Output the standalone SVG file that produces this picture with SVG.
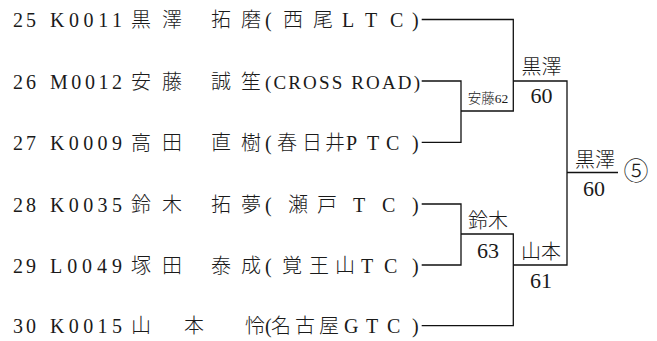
<svg xmlns="http://www.w3.org/2000/svg" width="657" height="341" viewBox="0 0 657 341">
<style>
text { font-family: "Liberation Serif", "Noto Sans CJK JP", serif; fill: #1a1a1a; font-size: 20px; }
.j { font-family: "Noto Sans CJK JP", sans-serif; font-weight: 300; }
.s { font-size: 22px; }
.sm { font-size: 13.5px; }
.cr { font-size: 19px; }
.ci { font-family: "Noto Sans CJK JP", sans-serif; font-weight: 300; font-size: 25px; }
#connectors path { stroke: #111; stroke-width: 1.3; fill: none; }
</style>
<rect width="657" height="341" fill="#fff"/>
<g id="connectors">
<path d="M421.7 19.5 H513.3 V111 H461"/>
<path d="M421.7 81 H461 V142.3 H421.7"/>
<path d="M513.3 81 H567 V265 H513.3"/>
<path d="M567 172.5 H618"/>
<path d="M421.7 204 H461 V265 H421.7"/>
<path d="M461 234 H513.3 V325.7 H421.7"/>
</g>
<g id="p25">
<text x="13" y="27" textLength="23" lengthAdjust="spacing">25</text>
<text x="50" y="27" textLength="72" lengthAdjust="spacing">K0011</text>
<text class="j" x="131 162 211 241" y="27">黒澤拓磨</text>
<text y="27"><tspan x="265">(</tspan><tspan class="j" x="283 313">西尾</tspan><tspan x="342 365 390 412">LTC)</tspan></text>
</g>
<g id="p26">
<text x="13" y="88.5" textLength="23" lengthAdjust="spacing">26</text>
<text x="50" y="88.5" textLength="72" lengthAdjust="spacing">M0012</text>
<text class="j" x="131 162 211 241" y="88.5">安藤誠笙</text>
<text class="cr" x="265" y="88.5" textLength="155" lengthAdjust="spacing">(CROSS  ROAD)</text>
</g>
<g id="p27">
<text x="13" y="150" textLength="23" lengthAdjust="spacing">27</text>
<text x="50" y="150" textLength="72" lengthAdjust="spacing">K0009</text>
<text class="j" x="131 162 211 241" y="150">高田直樹</text>
<text y="150"><tspan x="265">(</tspan><tspan class="j" x="277 302 325">春日井</tspan><tspan x="346 367 386 412">PTC)</tspan></text>
</g>
<g id="p28">
<text x="13" y="211.5" textLength="23" lengthAdjust="spacing">28</text>
<text x="50" y="211.5" textLength="72" lengthAdjust="spacing">K0035</text>
<text class="j" x="131 162 211 241" y="211.5">鈴木拓夢</text>
<text y="211.5"><tspan x="265">(</tspan><tspan class="j" x="288 317">瀬戸</tspan><tspan x="353 382 412">TC)</tspan></text>
</g>
<g id="p29">
<text x="13" y="272.5" textLength="23" lengthAdjust="spacing">29</text>
<text x="50" y="272.5" textLength="72" lengthAdjust="spacing">L0049</text>
<text class="j" x="131 162 211 241" y="272.5">塚田泰成</text>
<text y="272.5"><tspan x="265">(</tspan><tspan class="j" x="282 309 335">覚王山</tspan><tspan x="361 384 412">TC)</tspan></text>
</g>
<g id="p30">
<text x="13" y="333" textLength="23" lengthAdjust="spacing">30</text>
<text x="50" y="333" textLength="72" lengthAdjust="spacing">K0015</text>
<text class="j" x="131 184 245" y="333">山本怜</text>
<text y="333"><tspan x="265">(</tspan><tspan class="j" x="271 295 319">名古屋</tspan><tspan x="344 366 387 412">GTC)</tspan></text>
</g>
<g id="r1a">
<text class="sm" x="488" y="103" text-anchor="middle"><tspan class="j">安藤</tspan>62</text>
</g>
<g id="r1b">
<text class="j" x="488" y="228" text-anchor="middle">鈴木</text>
<text class="s" x="488" y="258" text-anchor="middle">63</text>
</g>
<g id="r2a">
<text class="j" x="541.5" y="73.5" text-anchor="middle">黒澤</text>
<text class="s" x="541.5" y="103.3" text-anchor="middle">60</text>
</g>
<g id="r2b">
<text class="j" x="541" y="259" text-anchor="middle">山本</text>
<text class="s" x="541" y="288" text-anchor="middle">61</text>
</g>
<g id="final">
<text class="j" x="595" y="167" text-anchor="middle">黒澤</text>
<text class="s" x="594" y="195.5" text-anchor="middle">60</text>
<text class="ci" x="636" y="179.5" text-anchor="middle">⑤</text>
</g>
</svg>
